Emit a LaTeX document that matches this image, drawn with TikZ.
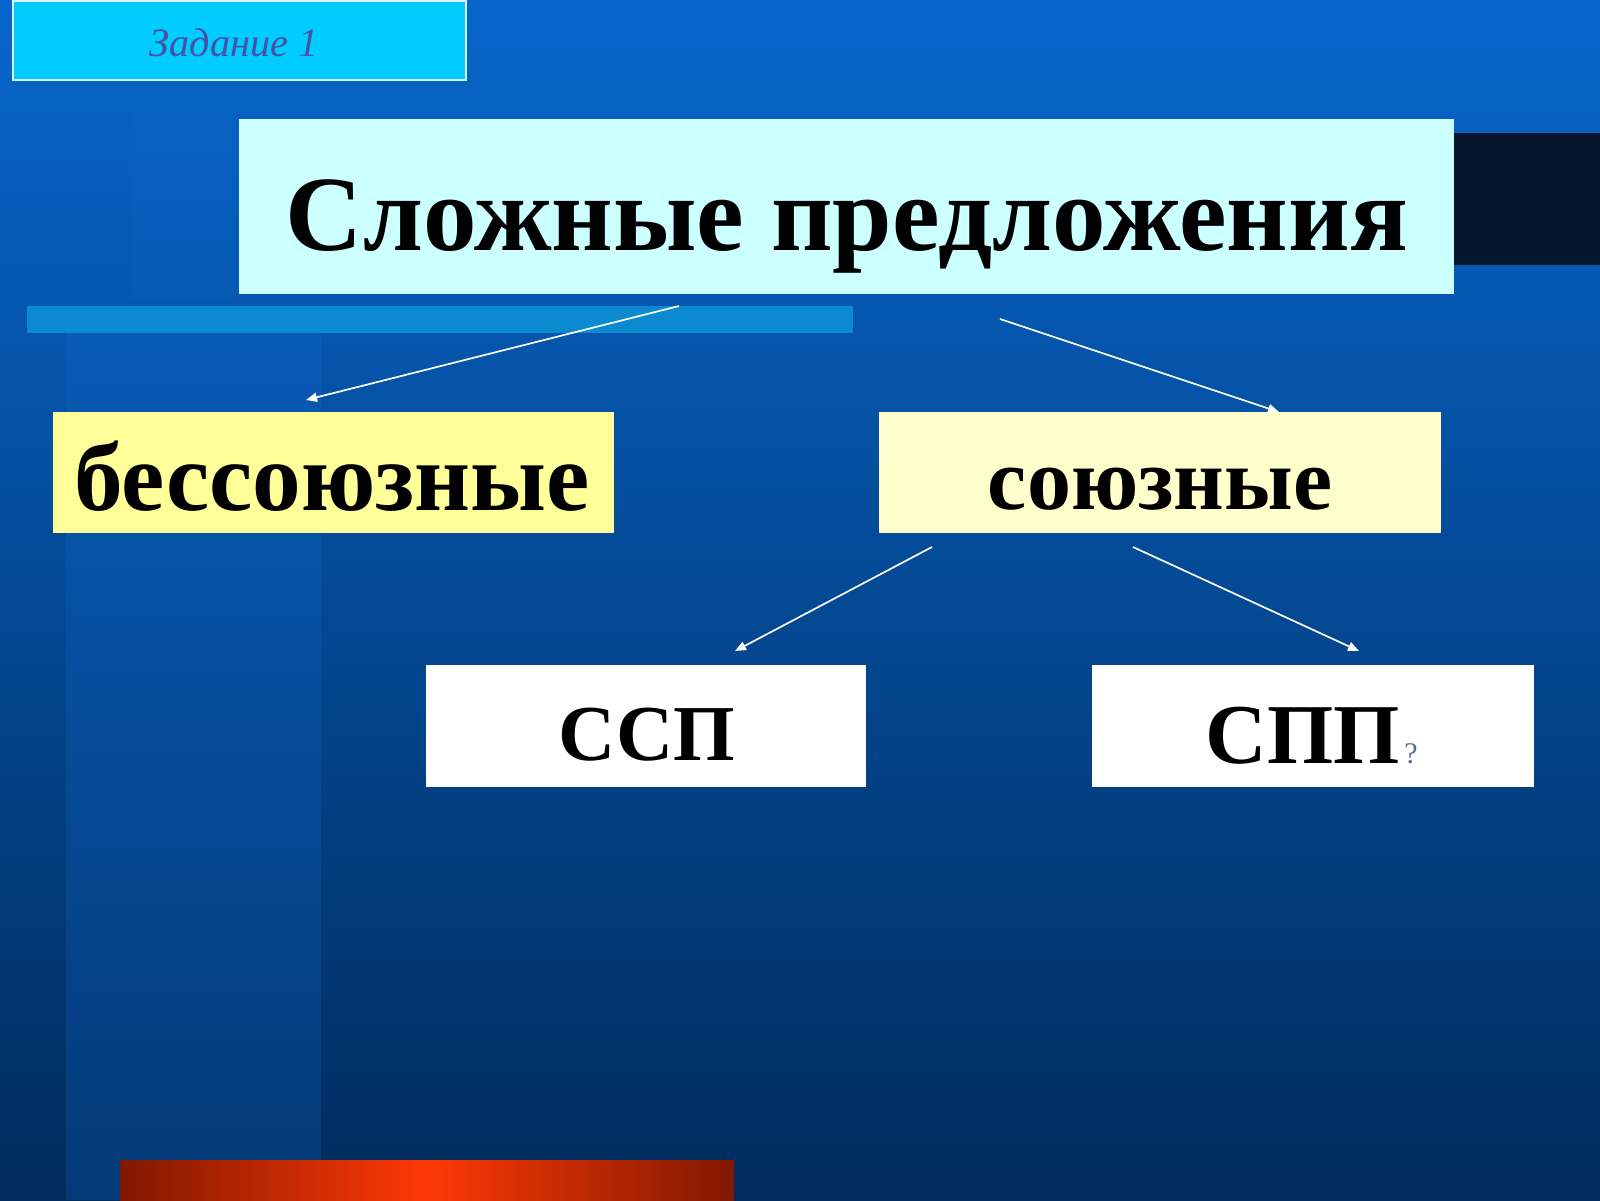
\documentclass[tikz,border=0pt]{standalone}
\usepackage{fontspec}
\setmainfont{Liberation Serif}
\usetikzlibrary{arrows.meta,shadings}
\definecolor{bgtop}{RGB}{8,102,204}
\definecolor{bgmid}{RGB}{0,74,155}
\definecolor{bgbot}{RGB}{0,44,92}
\definecolor{stripe}{RGB}{20,110,215}
\definecolor{zadfill}{RGB}{0,204,255}
\definecolor{zadtext}{RGB}{70,82,165}
\definecolor{titlefill}{RGB}{204,255,255}
\definecolor{besfill}{RGB}{255,255,153}
\definecolor{soyfill}{RGB}{255,255,204}
\definecolor{barblue}{RGB}{12,138,208}
\definecolor{darkband}{RGB}{6,22,46}
\definecolor{rededge}{RGB}{128,24,0}
\definecolor{redmid}{RGB}{255,56,6}
\definecolor{qcol}{RGB}{80,110,150}
\tikzset{
  box/.style={rectangle, inner sep=0pt, outer sep=0pt},
  lbl/.style={anchor=base, inner sep=0pt, outer sep=0pt, font=\bfseries},
  arr/.style={draw=white, line width=1.7pt, -{Triangle[length=11pt,width=9pt]}}
}
\begin{document}
\begin{tikzpicture}[x=1pt,y=-1pt]
\useasboundingbox (0,0) rectangle (1600,1200);
% background
\shade[top color=bgtop, middle color=bgmid, bottom color=bgbot] (0,0) rectangle (1600,1200);
\fill[stripe, opacity=0.22] (66,330) rectangle (321,1200);
\fill[stripe, opacity=0.12] (133,100) rectangle (233,300);
% decorative shapes
\fill[barblue] (27,306) rectangle (853,333);
\fill[darkband] (1454,133) rectangle (1600,265);
\shade[left color=rededge, right color=rededge, middle color=redmid, shading angle=90] (120,1160) rectangle (734,1200);
% task box
\node[box, fill=zadfill, draw=white!85!zadfill, line width=1.5pt, minimum width=453pt, minimum height=79pt] (zad) at (239.5,40.5) {};
\node[lbl, font=\itshape, text=zadtext] (zadtxt) at (234,56) {\resizebox{169pt}{!}{Задание 1}};
% title
\node[box, fill=titlefill, minimum width=1215pt, minimum height=175pt] (title) at (846.5,206.5) {};
\node[lbl] (titletxt) at (847,250) {\resizebox{1122pt}{!}{Сложные предложения}};
% level 2
\node[box, fill=besfill, minimum width=561pt, minimum height=121pt] (bes) at (333.5,472.5) {};
\node[lbl] (bestxt) at (332,510) {\resizebox{515pt}{!}{бессоюзные}};
\node[box, fill=soyfill, minimum width=562pt, minimum height=121pt] (soy) at (1160,472.5) {};
\node[lbl] (soytxt) at (1160,509) {\resizebox{344pt}{!}{союзные}};
% level 3
\node[box, fill=white, minimum width=440pt, minimum height=122pt] (ssp) at (646,726) {};
\node[lbl] (ssptxt) at (647,760) {\resizebox{176pt}{!}{ССП}};
\node[box, fill=white, minimum width=442pt, minimum height=122pt] (spp) at (1313,726) {};
\node[lbl] (spptxt) at (1303,763) {\resizebox{194pt}{!}{СПП}};
\node[anchor=base west, inner sep=0pt, text=qcol, font=\fontsize{30}{30}\selectfont] (q) at ([xshift=4pt]spptxt.base east) {?};
% connectors
\draw[arr] ([xshift=-167.5pt,yshift=-12pt]title.south) -- ([xshift=-27.5pt,yshift=12pt]bes.north);
\draw[arr] ([xshift=153.5pt,yshift=-25pt]title.south) -- ([xshift=119pt,yshift=0pt]soy.north);
\draw[arr] ([xshift=-228pt,yshift=-14pt]soy.south) -- ([xshift=89pt,yshift=14pt]ssp.north);
\draw[arr] ([xshift=-27pt,yshift=-14pt]soy.south) -- ([xshift=46pt,yshift=14pt]spp.north);
\end{tikzpicture}
\end{document}
